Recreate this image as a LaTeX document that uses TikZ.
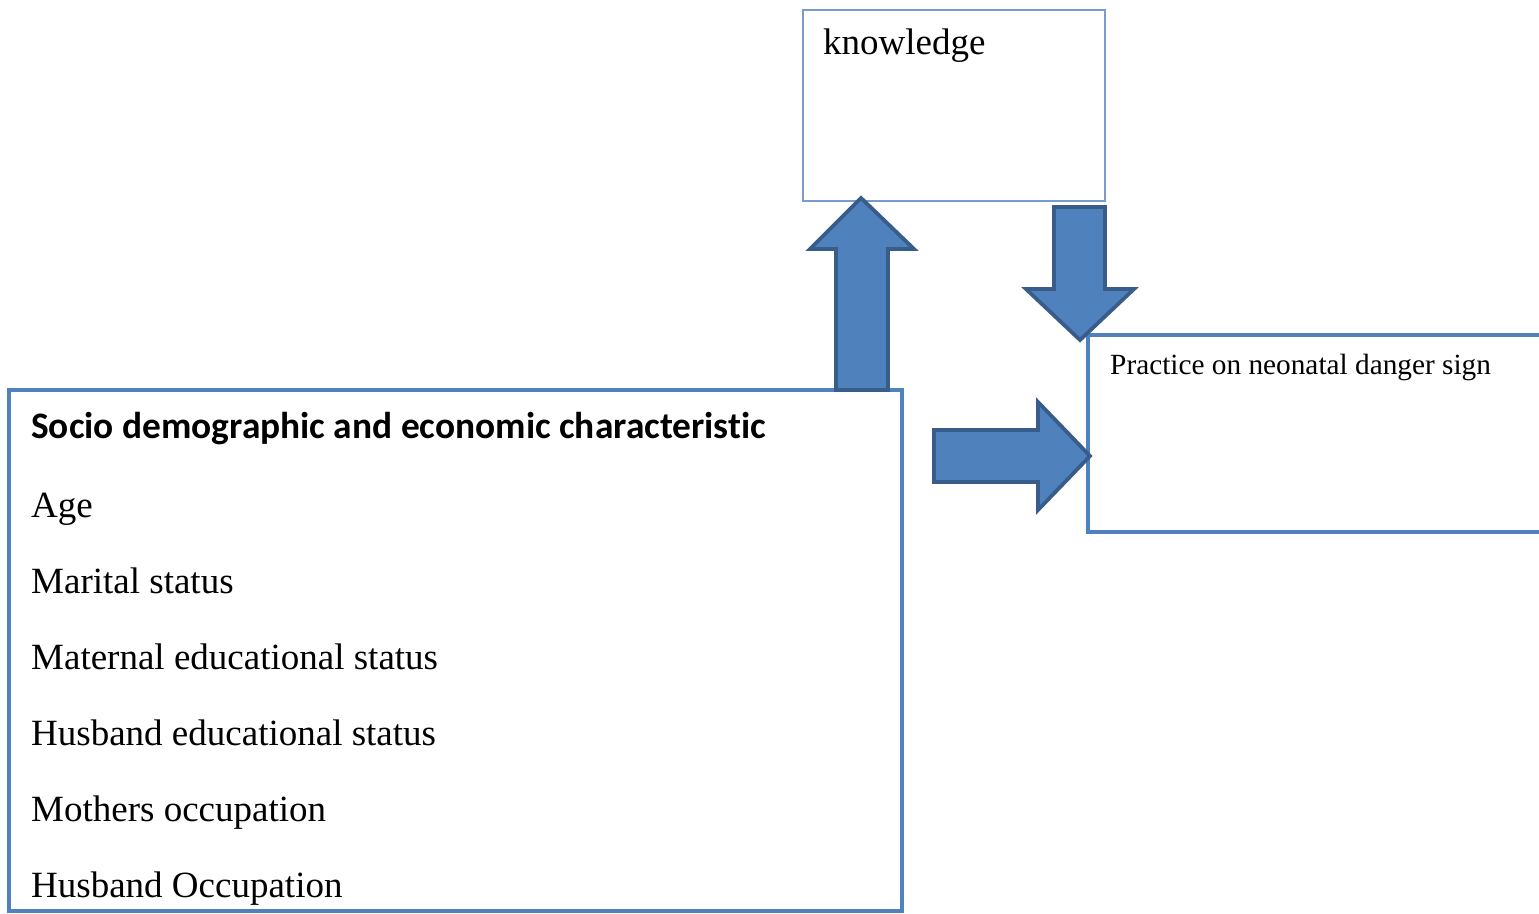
\documentclass[tikz,border=0pt]{standalone}
\usepackage{fontspec}
\setmainfont{Liberation Serif}
\newfontfamily\headfont[Ligatures=NoCommon]{Carlito}
\definecolor{boxblue}{HTML}{4F81BD}
\definecolor{arrowedge}{HTML}{385D8A}
\definecolor{thinblue}{HTML}{7A9CCD}
\begin{document}
\begin{tikzpicture}[x=1pt,y=-1pt,
  box/.style={draw=boxblue, line width=3.2pt, fill=white, anchor=north west, inner sep=0pt, outer sep=0pt},
  thinbox/.style={draw=thinblue, line width=1.5pt, fill=white, anchor=north west, inner sep=0pt, outer sep=0pt},
  blockarrow/.style={fill=boxblue, draw=arrowedge, line width=3.8pt, line join=miter},
  item/.style={anchor=base west, inner sep=0pt, font=\fontsize{37}{44}\selectfont},
  headtext/.style={anchor=base west, inner sep=0pt, font=\headfont\bfseries\fontsize{37.4}{44}\selectfont},
  smalltext/.style={anchor=base west, inner sep=0pt, font=\fontsize{29.3}{34}\selectfont}]
\useasboundingbox (0,0) rectangle (1539,913);
\clip (0,0) rectangle (1539,913);
% boxes
\node[thinbox, minimum width=302pt, minimum height=191pt] (knowledge) at (803,10) {};
\node[box, minimum width=472pt, minimum height=197pt] (practice) at (1088,335) {};
\node[box, minimum width=893pt, minimum height=521pt] (socio) at (9,390) {};
% block arrows
\draw[blockarrow] (836,390) -- (836,249) -- (810,249) -- (861,198) -- (914,249) -- (888,249) -- (888,390) -- cycle;
\draw[blockarrow] (1054,207) -- (1105,207) -- (1105,289) -- (1134,289) -- (1080,340) -- (1026,289) -- (1054,289) -- cycle;
\draw[blockarrow] (934,430) -- (1038,430) -- (1038,402) -- (1090,456) -- (1038,510) -- (1038,482) -- (934,482) -- cycle;
% texts
\node[item] (ktext) at (823,54) {knowledge};
\node[smalltext] (ptext) at (1110,374) {Practice on neonatal danger sign};
\node[headtext] (head) at (31,438) {Socio demographic and economic characteristic};
\node[item] (age) at (31,517) {Age};
\node[item] (marital) at (31,593) {Marital status};
\node[item] (matedu) at (31,669) {Maternal educational status};
\node[item] (husedu) at (31,745) {Husband educational status};
\node[item] (mocc) at (31,821) {Mothers occupation};
\node[item] (hocc) at (31,897) {Husband Occupation};
\end{tikzpicture}
\end{document}
